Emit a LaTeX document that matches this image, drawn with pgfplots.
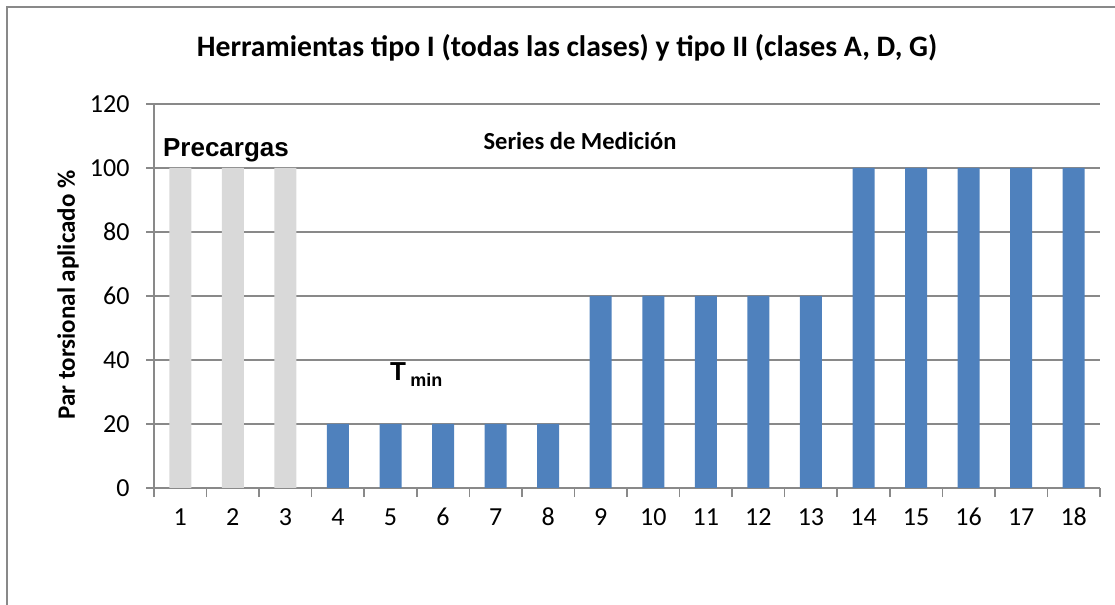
\documentclass[border=0pt]{standalone}
\usepackage{pgfplots}
\pgfplotsset{compat=1.18}
\usepackage{fontspec}
\setmainfont{Carlito}
\newfontfamily\arialfont{Liberation Sans}
\definecolor{barblue}{HTML}{4F81BD}
\definecolor{bargray}{HTML}{D9D9D9}
\definecolor{gridgray}{HTML}{898989}
\begin{document}
\begin{tikzpicture}
\useasboundingbox (0,0) rectangle (1115bp,605bp);
\draw[gridgray, line width=2bp] (7bp,0) -- (7bp,598bp) -- (1115bp,598bp);
\begin{axis}[
  at={(154bp,117bp)}, anchor=south west,
  scale only axis, width=946bp, height=384bp,
  xmin=0.5, xmax=18.5, ymin=0, ymax=120,
  axis x line=bottom, axis y line=left,
  axis line style={-, gridgray, line width=1.5bp},
  xtick={1,...,18},
  minor xtick={0.5,1.5,...,18.5},
  ytick={0,20,...,120},
  tick align=outside,
  major x tick style={draw=none},
  minor x tick style={gridgray, line width=1.5bp},
  major y tick style={gridgray, line width=1.5bp},
  major tick length=8bp, minor tick length=9bp,
  ymajorgrids, grid style={gridgray, line width=1.5bp},
  tick label style={font=\fontsize{26bp}{31bp}\selectfont, text=black},
  /pgf/number format/assume math mode=true,
  xticklabel style={anchor=north, text height=17bp, text depth=0bp, yshift=-9bp},
  yticklabel style={xshift=-13bp},
  ybar, bar width=22bp, bar shift=0pt,
  clip=false,
]
\addplot[fill=bargray, draw=none] coordinates {(1,100) (2,100) (3,100)};
\addplot[fill=barblue, draw=none] coordinates {(4,20) (5,20) (6,20) (7,20) (8,20)
 (9,60) (10,60) (11,60) (12,60) (13,60)
 (14,100) (15,100) (16,100) (17,100) (18,100)};
\end{axis}
\node[font=\bfseries\fontsize{29.7bp}{34bp}\selectfont] at (567bp,557bp) {Herramientas tipo I (todas las clases) y tipo II (clases A, D, G)};
\node[font=\bfseries\fontsize{25bp}{30bp}\selectfont, rotate=90] at (68bp,310bp) {Par torsional aplicado \%};
\node[font=\bfseries\fontsize{24.5bp}{29bp}\selectfont] at (580bp,464bp) {Series de Medición};
\node[font=\arialfont\bfseries\fontsize{26bp}{31bp}\selectfont] at (226bp,455bp) {Precargas};
\node[anchor=base west, inner sep=0pt, font=\arialfont\bfseries\fontsize{26bp}{31bp}\selectfont] at (390bp,224bp) {T\,{\fontsize{18bp}{21bp}\selectfont\raisebox{-6bp}{min}}};
\end{tikzpicture}
\end{document}
